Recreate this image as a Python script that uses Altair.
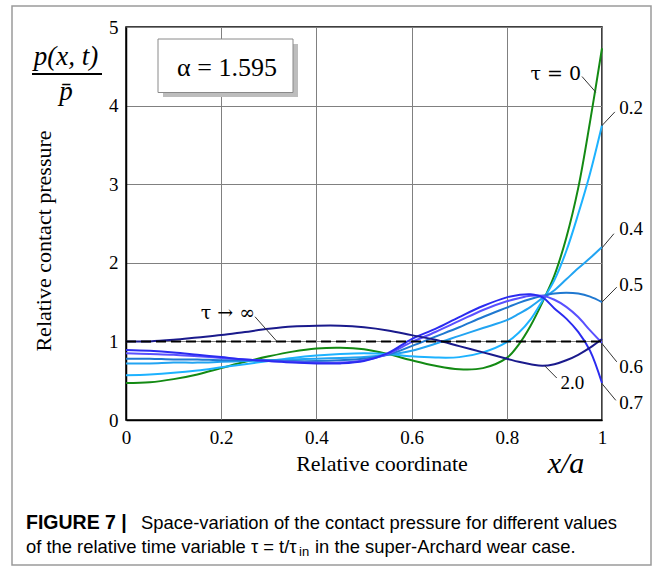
import altair as alt
import pandas as pd

# ---------------- data ----------------
x_grid = [0, .05, .1, .15, .2, .25, .3, .35, .4, .45, .5, .55, .6, .65, .7, .75, .8,
          .825, .85, .875, .9, .925, .95, .975, 1.0]

p_tau_0 = [0.47, 0.48, 0.52, 0.58, 0.66, 0.74, 0.81, 0.87, 0.91, 0.92, 0.90, 0.84, 0.76,
           0.69, 0.645, 0.66, 0.79, 0.96, 1.20, 1.50, 1.84, 2.32, 2.95, 3.80, 4.73]
p_tau_02 = [0.57, 0.58, 0.60, 0.63, 0.67, 0.71, 0.75, 0.79, 0.82, 0.84, 0.85, 0.84, 0.81,
            0.795, 0.80, 0.86, 0.99, 1.11, 1.28, 1.52, 1.78, 2.15, 2.62, 3.14, 3.75]
p_tau_04 = [0.72, 0.72, 0.73, 0.73, 0.74, 0.75, 0.76, 0.77, 0.78, 0.79, 0.80, 0.83, 0.88,
            0.97, 1.07, 1.17, 1.27, 1.35, 1.44, 1.55, 1.65, 1.79, 1.93, 2.06, 2.20]
p_tau_05 = [0.78, 0.78, 0.77, 0.77, 0.76, 0.76, 0.76, 0.75, 0.75, 0.76, 0.78, 0.83, 0.94,
            1.06, 1.18, 1.31, 1.43, 1.49, 1.54, 1.58, 1.61, 1.62, 1.61, 1.57, 1.50]
p_tau_06 = [0.85, 0.84, 0.83, 0.81, 0.79, 0.77, 0.75, 0.74, 0.73, 0.73, 0.76, 0.84, 0.99,
            1.12, 1.26, 1.40, 1.51, 1.55, 1.58, 1.58, 1.53, 1.44, 1.31, 1.14, 0.98]
p_tau_07 = [0.89, 0.88, 0.86, 0.83, 0.80, 0.77, 0.75, 0.73, 0.72, 0.72, 0.75, 0.85, 1.03,
            1.16, 1.31, 1.45, 1.56, 1.59, 1.60, 1.56, 1.42, 1.29, 1.12, 0.88, 0.47]
p_tau_20 = [1.00, 1.00, 1.02, 1.05, 1.08, 1.12, 1.16, 1.19, 1.20, 1.20, 1.18, 1.14, 1.08,
            1.02, 0.94, 0.86, 0.78, 0.74, 0.71, 0.69, 0.71, 0.76, 0.83, 0.92, 1.03]

tau_names = ["0", "0.2", "0.4", "0.5", "0.6", "0.7", "2.0"]
tau_colors = ["#138a13", "#1db2ff", "#22a4f2", "#1f78d0", "#5a50ff", "#2b2bf0", "#1a1a8c"]
series = [p_tau_0, p_tau_02, p_tau_04, p_tau_05, p_tau_06, p_tau_07, p_tau_20]

x_ticks = [0, 0.2, 0.4, 0.6, 0.8, 1]
y_ticks = [0, 1, 2, 3, 4, 5]

# curve labels (data coordinates) and leader lines
label_text = ["τ = 0", "0.2", "0.4", "0.5", "0.6", "0.7", "2.0", "τ → ∞"]
label_x = [0.903, 1.036, 1.036, 1.036, 1.036, 1.036, 0.938, 0.214]
label_y = [4.40, 3.97, 2.43, 1.72, 0.68, 0.22, 0.47, 1.36]
label_kind = ["greek", "left", "left", "left", "left", "left", "center", "greek"]

lead_x1 = [0.958, 0.999, 1.000, 1.000, 0.999, 0.999, 0.880, 0.271]
lead_y1 = [4.37, 3.74, 2.19, 1.50, 0.98, 0.47, 0.687, 1.314]
lead_x2 = [0.987, 1.027, 1.025, 1.031, 1.031, 1.029, 0.905, 0.317]
lead_y2 = [4.17, 3.92, 2.37, 1.69, 0.74, 0.25, 0.534, 1.0]

rows = []
for name, vals in zip(tau_names, series):
    for xv, pv in zip(x_grid, vals):
        rows.append({"x": xv, "p": pv, "tau": name})
df = pd.DataFrame(rows)

df_inf = pd.DataFrame({"x": [0, 1], "p": [1, 1]})
df_lab = pd.DataFrame({"x": label_x, "p": label_y, "text": label_text, "kind": label_kind})
df_lead = pd.DataFrame({"x": lead_x1, "p": lead_y1, "x2": lead_x2, "p2": lead_y2})
one = pd.DataFrame({"a": [0]})

SERIF = "Liberation Serif"
SANS = "Liberation Sans"

xs = alt.Scale(domain=[0, 1], nice=False, zero=False)
ys = alt.Scale(domain=[0, 5], nice=False, zero=False)

axis_common = dict(format="~g", title=None, grid=True, gridColor="#808080",
                   gridWidth=1, gridOpacity=1, tickSize=0, labelPadding=8, labelFont=SERIF,
                   labelFontSize=19, labelColor="black", domainColor="black", domainWidth=1.5,
                   labelFlush=False)
x_axis = alt.Axis(values=x_ticks, **axis_common)
y_axis = alt.Axis(values=y_ticks, **axis_common)

curves = alt.Chart(df).mark_line(strokeWidth=2, interpolate="catmull-rom").encode(
    x=alt.X("x:Q", scale=xs, axis=x_axis),
    y=alt.Y("p:Q", scale=ys, axis=y_axis),
    color=alt.Color("tau:N", scale=alt.Scale(domain=tau_names, range=tau_colors), legend=None),
)

inf_line = alt.Chart(df_inf).mark_line(color="black", strokeWidth=2, strokeDash=[10, 5]).encode(
    x="x:Q", y="p:Q"
)

leaders = alt.Chart(df_lead).mark_rule(color="#333333", strokeWidth=1).encode(
    x="x:Q", y="p:Q", x2="x2:Q", y2="p2:Q"
)

labels_g = alt.Chart(df_lab[df_lab["kind"] == "greek"]).mark_text(
    font="DejaVu Serif", fontSize=19, color="black", align="center", baseline="middle"
).encode(x="x:Q", y="p:Q", text="text:N")
labels_c = alt.Chart(df_lab[df_lab["kind"] == "center"]).mark_text(
    font=SERIF, fontSize=19, color="black", align="center", baseline="middle"
).encode(x="x:Q", y="p:Q", text="text:N")
labels_l = alt.Chart(df_lab[df_lab["kind"] == "left"]).mark_text(
    font=SERIF, fontSize=19, color="black", align="left", baseline="middle"
).encode(x="x:Q", y="p:Q", text="text:N")

# ---------- annotation furniture (pixel positions relative to plot area) ----------
def rect(x1, y1, x2, y2, **kw):
    return alt.Chart(one).mark_rect(**kw).encode(
        x=alt.value(x1), x2=alt.value(x2), y=alt.value(y1), y2=alt.value(y2))

def txt(s, x, y, **kw):
    base = dict(font=SERIF, fontSize=17, color="black", align="center", baseline="middle")
    base.update(kw)
    return alt.Chart(one).mark_text(text=s, **base).encode(x=alt.value(x), y=alt.value(y))

frame = rect(-114, -21, 525, 538, fillOpacity=0, stroke="#9a9a9a", strokeWidth=1.5)
shadow = rect(37, 17, 172, 70, color="#bdbdbd")
box = rect(32, 12, 167, 65.5, fill="white", stroke="#8a8a8a", strokeWidth=1)
alpha_txt = txt("α = 1.595", 101, 41, fontSize=26)

num = txt("p(x, t)", -60, 30, fontSize=27, fontStyle="italic")
bar = alt.Chart(one).mark_rule(color="black", strokeWidth=2).encode(
    x=alt.value(-94), x2=alt.value(-24), y=alt.value(47))
den = txt("p\u0304", -60, 65, fontSize=27, fontStyle="italic")

ytitle = txt("Relative contact pressure", -82, 214, fontSize=22, angle=270)
xtitle = txt("Relative coordinate", 256, 437, fontSize=22)
xa = txt("x/a", 440, 437, fontSize=30, fontStyle="italic")

CAP = 18.4
cap1a = txt("FIGURE 7 |", -100, 496, font=SANS, fontSize=19.5, fontWeight="bold", align="left")
cap1b = txt("Space-variation of the contact pressure for different values", 15, 496,
            font=SANS, fontSize=CAP, align="left")
cap2a = txt("of the relative time variable τ = t/τ", -100, 520, font=SANS, fontSize=CAP, align="left")
cap2b = txt("in", 173, 525, font=SANS, fontSize=13, align="left")
cap2c = txt("in the super-Archard wear case.", 189, 520, font=SANS, fontSize=CAP, align="left")

chart = alt.layer(
    curves, inf_line, leaders, labels_g, labels_c, labels_l,
    shadow, box, alpha_txt, num, bar, den, ytitle, xtitle, xa,
    cap1a, cap1b, cap2a, cap2b, cap2c, frame,
).properties(
    width=476, height=393,
    padding={"left": 126, "top": 27, "right": 62, "bottom": 147},
    autosize="none",
    background="white",
).configure_view(stroke="black", strokeWidth=1.5)

chart.save("out.html", embed_options={"renderer": "svg", "actions": False})
